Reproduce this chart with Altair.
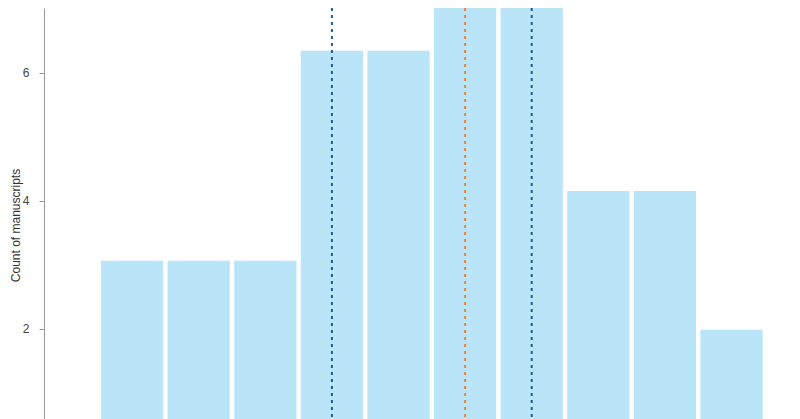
import altair as alt
import pandas as pd

# Histogram bins (x axis is outside the visible crop) and bar heights
bins = ["1", "2", "3", "4", "5", "6", "7", "8", "9", "10"]
counts = [3.06, 3.06, 3.06, 6.34, 6.34, 7.44, 7.44, 4.15, 4.15, 1.98]

# Reference lines (quartiles and median), placed on bins
line_bins = ["4", "6", "7"]
line_kind = ["quartile", "median", "quartile"]

y_ticks = [2, 4, 6]

df = pd.DataFrame({"bin": bins, "count": counts})
lines = pd.DataFrame({"bin": line_bins, "kind": line_kind})

x_scale = alt.Scale(domain=bins, paddingInner=0.065, paddingOuter=0.648, align=0.66)
y_scale = alt.Scale(domain=[0.586, 7.008], nice=False, zero=False)

bars = alt.Chart(df).mark_bar(color="#BAE4F8", clip=True).encode(
    x=alt.X("bin:N", scale=x_scale, sort=bins, axis=None),
    y=alt.Y(
        "count:Q",
        scale=y_scale,
        title="Count of manuscripts",
        axis=alt.Axis(values=y_ticks, titleX=-22, titleY=217),
    ),
    y2=alt.datum(0),
)

rules = alt.Chart(lines).mark_rule(strokeDash=[3, 4], strokeWidth=2).encode(
    x=alt.X("bin:N", scale=x_scale, sort=bins, axis=None),
    color=alt.Color(
        "kind:N",
        scale=alt.Scale(domain=["quartile", "median"], range=["#1B5E9E", "#E8833A"]),
        legend=None,
    ),
)

chart = (
    alt.layer(bars, rules)
    .properties(
        width=748,
        height=411,
        padding={"left": 36, "top": 0, "right": 0, "bottom": 0},
        autosize=alt.AutoSizeParams(type="none"),
        background="white",
    )
    .configure_view(stroke=None)
    .configure_axis(
        grid=False,
        domainColor="#999999",
        tickColor="#999999",
        tickSize=5,
        labelFont="Liberation Sans",
        labelFontSize=12,
        labelColor="#444444",
        labelPadding=10,
        titleFont="Liberation Sans",
        titleFontSize=12,
        titleFontWeight="normal",
        titleColor="#333333",
    )
)

chart.save("out.html", embed_options={"renderer": "svg", "actions": False})
